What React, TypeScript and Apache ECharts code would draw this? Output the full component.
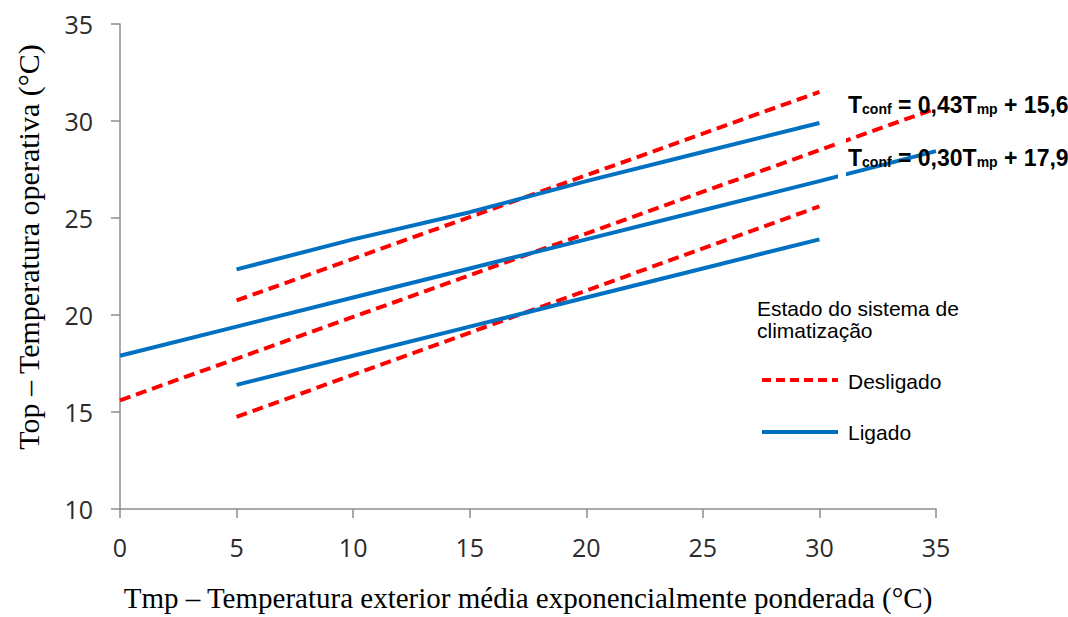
import React, { useEffect, useRef } from "react";
import * as echarts from "echarts";

// ---- data ----
const xTicks = [0, 5, 10, 15, 20, 25, 30, 35];
const redCenter = [[0, 15.6], [35, 30.65]];
const redUpper = [[5, 20.75], [30, 31.5]];
const redLower = [[5, 14.75], [30, 25.6]];
const blueCenter = [[0, 17.9], [5, 19.4], [10, 20.9], [15, 22.4], [20, 23.9], [25, 25.4], [30, 26.9], [35, 28.45]];
const blueUpper = [[5, 22.35], [10, 23.9], [15, 25.3], [20, 26.9], [25, 28.4], [30, 29.9]];
const blueLower = [[5, 16.4], [10, 17.9], [15, 19.4], [20, 20.9], [25, 22.4], [30, 23.9]];
const legendTitle = "Estado do sistema de\nclimatização";
const legendNames = ["Desligado", "Ligado"];
const eqRed = ["T", "conf", " = 0,43T", "mp", " + 15,6"];
const eqBlue = ["T", "conf", " = 0,30T", "mp", " + 17,9"];
const xTitle = "Tmp – Temperatura exterior média exponencialmente ponderada (°C)";
const yTitle = "Top – Temperatura operativa (°C)";

const RED = "#FF0000";
const BLUE = "#0070C0";
const SERIF = "'Liberation Serif', 'Times New Roman', serif";
const SANS = "Arial, 'Liberation Sans'";

export default function App() {
  const ref = useRef<HTMLDivElement>(null);
  useEffect(() => {
    document.body.style.margin = "0";
    const chart = echarts.init(ref.current!, null, { renderer: "svg" });
    const redStyle = { color: RED, width: 4, type: [11, 6] as any };
    const blueStyle = { color: BLUE, width: 4 };
    const mk = (name: string, data: number[][], ls: any) => ({
      type: "line",
      name,
      data,
      symbol: "none",
      lineStyle: ls,
      itemStyle: { color: ls.color },
      silent: true,
    });
    const rich = {
      m: { fontFamily: SANS, fontWeight: "bold", fontSize: 23, color: "#000", lineHeight: 28, verticalAlign: "bottom" },
      s: { fontFamily: SANS, fontWeight: "bold", fontSize: 14, color: "#000", lineHeight: 28, verticalAlign: "bottom" },
    };
    const eq = (p: string[]) => `{m|${p[0]}}{s|${p[1]}}{m|${p[2]}}{s|${p[3]}}{m|${p[4]}}`;
    chart.setOption({
      animation: false,
      grid: { left: 120, right: 132, top: 24, bottom: 102, containLabel: false },
      xAxis: {
        type: "value",
        min: 0,
        max: 35,
        interval: 5,
        name: xTitle,
        nameLocation: "middle",
        nameGap: 74,
        nameTextStyle: { fontFamily: SERIF, fontSize: 29, color: "#000" },
        axisLine: { lineStyle: { color: "#8C8C8C", width: 1.5 } },
        axisTick: { show: true, length: 9, lineStyle: { color: "#8C8C8C", width: 1.5 } },
        axisLabel: { margin: 25, fontFamily: "'Open Sans'", fontSize: 25, color: "#2b2b2b", customValues: xTicks },
        splitLine: { show: false },
      },
      yAxis: {
        type: "value",
        min: 10,
        max: 35,
        interval: 5,
        axisLine: { show: true, lineStyle: { color: "#8C8C8C", width: 1.5 } },
        axisTick: { show: true, length: 9, lineStyle: { color: "#8C8C8C", width: 1.5 } },
        axisLabel: { margin: 27, fontFamily: "'Open Sans'", fontSize: 25, color: "#2b2b2b" },
        splitLine: { show: false },
      },
      series: [
        mk("Desligado", redCenter, redStyle),
        mk("Desligado sup", redUpper, redStyle),
        mk("Desligado inf", redLower, redStyle),
        mk("Ligado", blueCenter, blueStyle),
        mk("Ligado sup", blueUpper, blueStyle),
        mk("Ligado inf", blueLower, blueStyle),
      ],
      graphic: [
        {
          type: "text", x: 28, y: 247, rotation: Math.PI / 2, z: 101,
          style: { text: yTitle, fontFamily: SERIF, fontSize: 30, fill: "#000", align: "center", verticalAlign: "middle" },
        },
        { type: "rect", left: 838, top: 128, shape: { width: 8, height: 55 }, style: { fill: "#fff" }, z: 100 },
        {
          type: "text", x: 848, y: 102, z: 101,
          style: { text: eq(eqRed), rich, verticalAlign: "middle", align: "left" },
        },
        {
          type: "text", x: 848, y: 155, z: 101,
          style: { text: eq(eqBlue), rich, verticalAlign: "middle", align: "left" },
        },
        {
          type: "text", x: 757, y: 297, z: 101,
          style: { text: legendTitle, fontFamily: SANS, fontSize: 21, lineHeight: 22, fill: "#000", verticalAlign: "top" },
        },
        { type: "line", z: 101, shape: { x1: 762, y1: 380, x2: 838, y2: 380 }, style: { stroke: RED, lineWidth: 4, lineDash: [9, 5] } },
        { type: "line", z: 101, shape: { x1: 762, y1: 432, x2: 838, y2: 432 }, style: { stroke: BLUE, lineWidth: 4 } },
        {
          type: "text", x: 848, y: 381, z: 101,
          style: { text: legendNames[0], fontFamily: SANS, fontSize: 21, fill: "#000", verticalAlign: "middle" },
        },
        {
          type: "text", x: 848, y: 432, z: 101,
          style: { text: legendNames[1], fontFamily: SANS, fontSize: 21, fill: "#000", verticalAlign: "middle" },
        },
      ],
    });
    return () => chart.dispose();
  }, []);
  return <div ref={ref} style={{ width: 1068, height: 617 }} />;
}
